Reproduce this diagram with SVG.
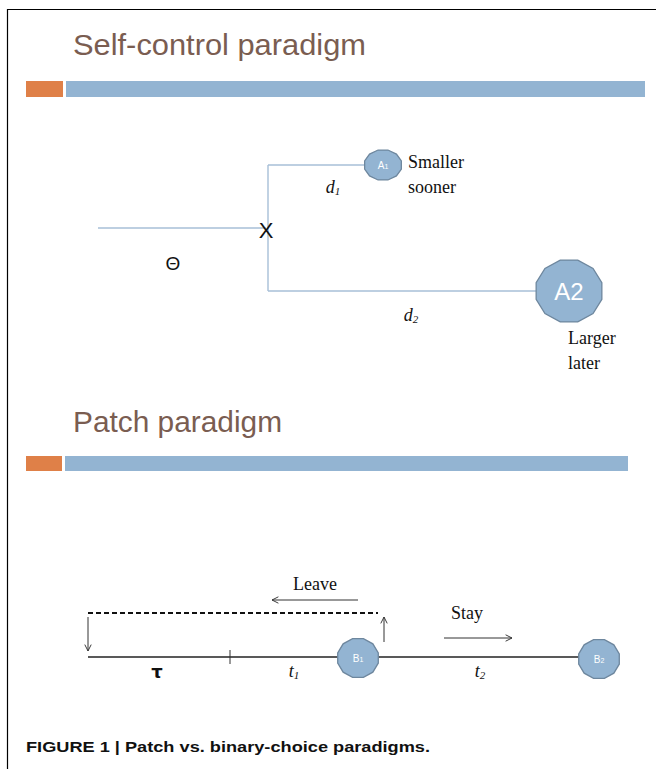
<svg xmlns="http://www.w3.org/2000/svg" xmlns:xlink="http://www.w3.org/1999/xlink" width="656" height="769" viewBox="0 0 656 769">
<style>
.title{font-family:"Liberation Sans",Arial,sans-serif;font-size:30px;fill:#7a5d51}
.serif{font-family:"Liberation Serif","Times New Roman",serif;fill:#111}
.it{font-style:italic}
.node{fill:#93b4d2;stroke:#6e879e;stroke-width:1.3}
.nl{font-family:"Liberation Sans",Arial,sans-serif;fill:#fff;text-anchor:middle}
.sc{stroke:#a7bfd7;stroke-width:1.4;fill:none}
.ax{stroke:#222;stroke-width:1.3;fill:none}
.thin{stroke:#333;stroke-width:1;fill:none}
</style>
<defs>
<polygon id="dodeca" vector-effect="non-scaling-stroke" points="0.966,0.259 0.707,0.707 0.259,0.966 -0.259,0.966 -0.707,0.707 -0.966,0.259 -0.966,-0.259 -0.707,-0.707 -0.259,-0.966 0.259,-0.966 0.707,-0.707 0.966,-0.259"/>
<marker id="arr" viewBox="0 0 10 10" refX="9" refY="5" markerWidth="8" markerHeight="8" markerUnits="userSpaceOnUse" orient="auto">
<path d="M1,1 L9,5 L1,9" fill="none" stroke="#333" stroke-width="1.2"/>
</marker>
</defs>
<rect width="656" height="769" fill="#fff"/>
<path d="M7.5,769 V9.5 H656" fill="none" stroke="#000" stroke-width="1.2"/>

<g id="header1">
<text class="title" x="73" y="55" textLength="293" lengthAdjust="spacingAndGlyphs">Self-control paradigm</text>
<rect x="26" y="81" width="37" height="16" fill="#df8048"/>
<rect x="66" y="81" width="579" height="16" fill="#93b4d2"/>
</g>

<g id="connectors">
<path class="sc" d="M98,228 H266"/>
<path class="sc" d="M268,165 V291"/>
<path class="sc" d="M268,165 H364"/>
<path class="sc" d="M268,291 H536"/>
<path class="ax" d="M88,657 H580"/>
<path class="thin" d="M230,650 V664"/>
<path d="M88,613 H378" stroke="#111" stroke-width="1.8" stroke-dasharray="5,3" fill="none"/>
<path class="thin" d="M88,617 V651" marker-end="url(#arr)"/>
<path class="thin" d="M384,642 V617" marker-end="url(#arr)"/>
<path class="thin" d="M358,600 H272" marker-end="url(#arr)"/>
<path class="thin" d="M444,638 H512" marker-end="url(#arr)"/>
</g>

<g id="choice-x">
<text x="266" y="238" font-family="Liberation Sans,Arial,sans-serif" font-size="22" fill="#111" text-anchor="middle">X</text>
</g>
<g id="theta">
<text x="173" y="270" font-family="Liberation Sans,Arial,sans-serif" font-size="19" fill="#111" text-anchor="middle">Θ</text>
</g>
<g id="label-d1"><text class="serif it" x="333" y="193" font-size="18" text-anchor="middle">d<tspan font-size="11" dy="2">1</tspan></text></g>
<g id="label-d2"><text class="serif it" x="411" y="321" font-size="18" text-anchor="middle">d<tspan font-size="11" dy="2">2</tspan></text></g>

<g id="node-A1">
<use xlink:href="#dodeca" class="node" transform="translate(383,165) scale(19,15.5)"/>
<text class="nl" x="383" y="169" font-size="10">A<tspan font-size="7">1</tspan></text>
<text class="serif" x="408" y="168" font-size="18">Smaller</text>
<text class="serif" x="408" y="193" font-size="18">sooner</text>
</g>

<g id="node-A2">
<use xlink:href="#dodeca" class="node" transform="translate(569,291) scale(34,32)"/>
<text class="nl" x="569" y="300" font-size="24">A2</text>
<text class="serif" x="568" y="344" font-size="18">Larger</text>
<text class="serif" x="568" y="369" font-size="18">later</text>
</g>

<g id="header2">
<text class="title" x="73" y="432" textLength="209" lengthAdjust="spacingAndGlyphs">Patch paradigm</text>
<rect x="26" y="456" width="36" height="15" fill="#df8048"/>
<rect x="65" y="456" width="563" height="15" fill="#93b4d2"/>
</g>

<g id="label-leave"><text class="serif" x="315" y="590" font-size="18" text-anchor="middle">Leave</text></g>
<g id="label-stay"><text class="serif" x="467" y="619" font-size="18" text-anchor="middle">Stay</text></g>
<g id="label-tau"><text x="157" y="678" font-family="DejaVu Sans,sans-serif" font-size="18" font-weight="bold" fill="#111" text-anchor="middle">τ</text></g>
<g id="label-t1"><text class="serif it" x="294" y="677" font-size="18" text-anchor="middle">t<tspan font-size="11" dy="2">1</tspan></text></g>
<g id="label-t2"><text class="serif it" x="480" y="677" font-size="18" text-anchor="middle">t<tspan font-size="11" dy="2">2</tspan></text></g>

<g id="node-B1">
<use xlink:href="#dodeca" class="node" transform="translate(358,658) scale(21,20)"/>
<text class="nl" x="358" y="662" font-size="10">B<tspan font-size="7">1</tspan></text>
</g>
<g id="node-B2">
<use xlink:href="#dodeca" class="node" transform="translate(599,659) scale(21,20)"/>
<text class="nl" x="599" y="663" font-size="10">B<tspan font-size="7">2</tspan></text>
</g>

<g id="caption">
<text x="26" y="752" font-family="Liberation Sans,Arial,sans-serif" font-weight="bold" font-size="15.5" fill="#111" textLength="404" lengthAdjust="spacingAndGlyphs">FIGURE 1 | Patch vs. binary-choice paradigms.</text>
</g>
</svg>
